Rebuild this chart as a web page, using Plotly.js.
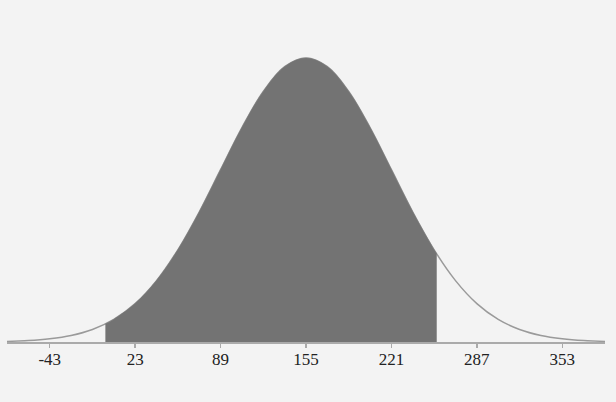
<!DOCTYPE html>
<html>
<head>
<meta charset="utf-8">
<script src="https://cdn.plot.ly/plotly-3.0.1.min.js"></script>
<style>html,body{margin:0;padding:0;background:#f3f3f3;}</style>
</head>
<body>
<div id="chart" style="width:616px;height:402px;"></div>
<script>
// Curve sample points (x value, relative height)
const curveX = [-76, -59.5, -43, -26.5, -10, 6.5, 23, 39.5, 56, 72.5, 89, 105.5, 122, 138.5, 155,
                171.5, 188, 204.5, 221, 237.5, 254, 270.5, 287, 303.5, 320, 336.5, 353, 369.5, 386];
const curveY = [0.6, 1.4, 3.2, 6.5, 12.5, 22.6, 38.4, 61.4, 92.2, 130.0, 172.3, 214.4, 250.6, 275.3, 284,
                275.3, 250.6, 214.4, 172.3, 130.0, 92.2, 61.4, 38.4, 22.6, 12.5, 6.5, 3.2, 1.4, 0.6];
// Shaded interval edges
const shadeFrom = 0, shadeFromY = 18.0;
const shadeTo = 256, shadeToY = 88.1;
// Tick labels
const tickVals = [-43, 23, 89, 155, 221, 287, 353];
const tickText = ["-43", "23", "89", "155", "221", "287", "353"];

const sx = [shadeFrom], sy = [shadeFromY];
curveX.forEach((x, i) => { if (x > shadeFrom && x < shadeTo) { sx.push(x); sy.push(curveY[i]); } });
sx.push(shadeTo); sy.push(shadeToY);

const traces = [
  {x: curveX, y: curveY, type: 'scatter', mode: 'lines',
   line: {color: '#9a9a9a', width: 1.5, shape: 'spline'}, hoverinfo: 'skip'},
  {x: sx, y: sy, type: 'scatter', mode: 'lines', fill: 'tozeroy',
   fillcolor: '#737373', line: {color: '#737373', width: 0.5, shape: 'spline'}, hoverinfo: 'skip'}
];

const layout = {
  width: 616, height: 402,
  paper_bgcolor: '#f3f3f3', plot_bgcolor: '#f3f3f3',
  margin: {l: 7, r: 11, t: 57, b: 60},
  showlegend: false,
  xaxis: {range: [-76, 386], tickvals: tickVals, ticktext: tickText,
          showgrid: false, zeroline: false, showline: true, linecolor: '#aaaaaa', linewidth: 2,
          ticks: 'outside', ticklen: 4, tickwidth: 1.5, tickcolor: '#aaaaaa', ticklabelstandoff: -3,
          tickfont: {family: 'Liberation Serif, serif', size: 17, color: '#222222'}},
  yaxis: {range: [0, 285], visible: false, showgrid: false, zeroline: false, fixedrange: true}
};

Plotly.newPlot('chart', traces, layout, {staticPlot: true, displayModeBar: false});
</script>
</body>
</html>
